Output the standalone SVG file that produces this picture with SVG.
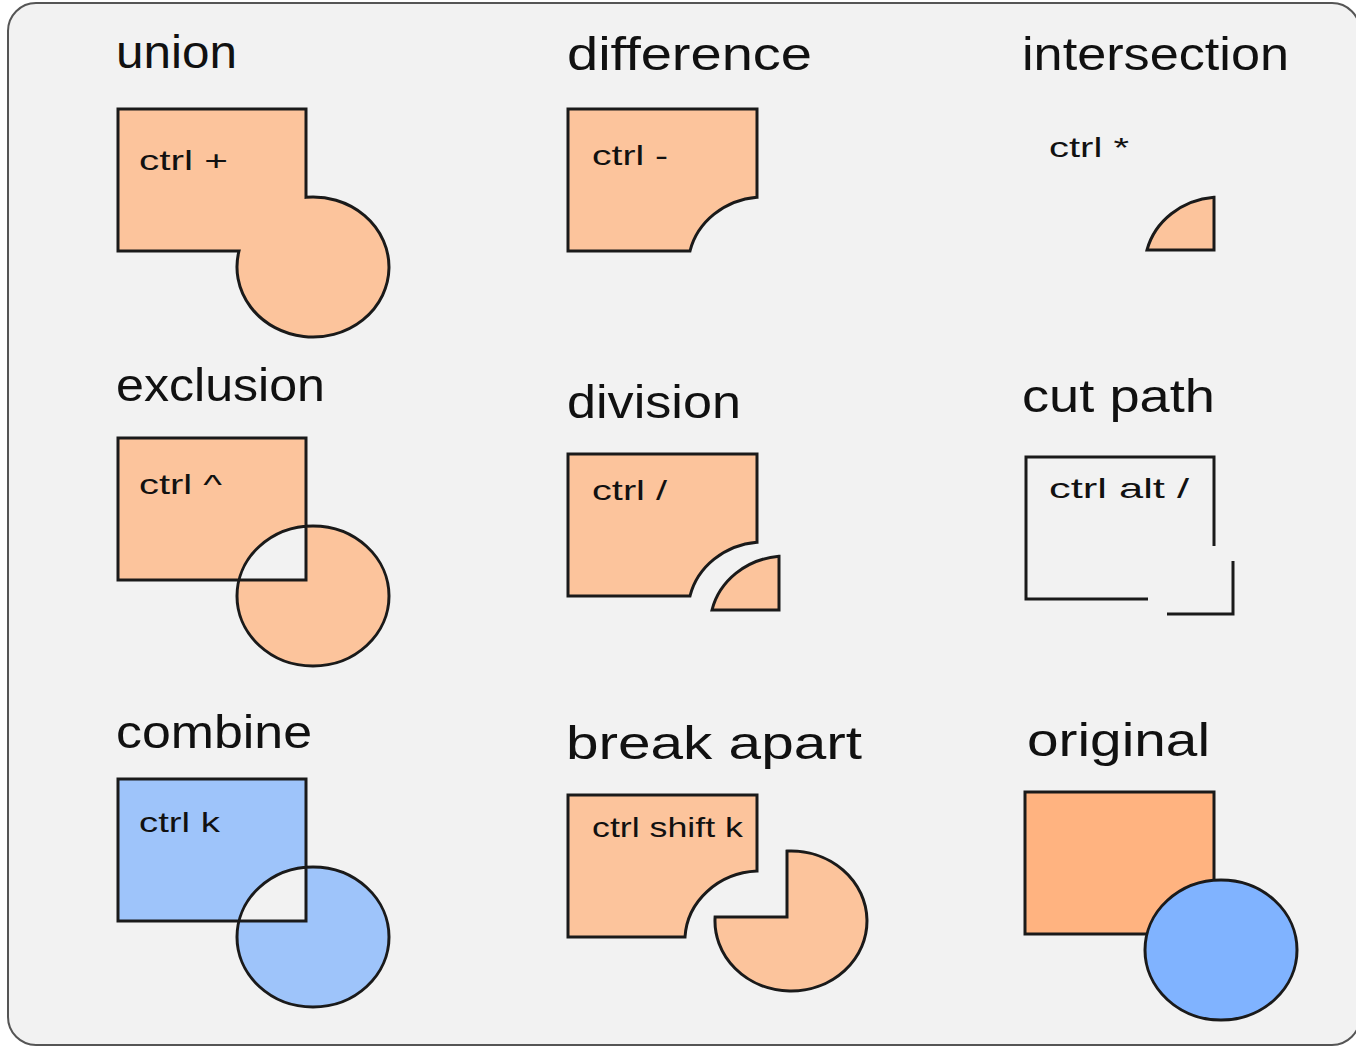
<svg xmlns="http://www.w3.org/2000/svg" width="1356" height="1048" viewBox="0 0 1356 1048">
<style>
.bg{fill:#f2f2f2;stroke:#555;stroke-width:2}
.sh{stroke:#1a1a1a;stroke-width:3;stroke-linejoin:miter}
.or{fill:#fcc49c}
.bl{fill:#9ec4fa}
.h{font-family:"Liberation Sans",Arial,sans-serif;font-size:46px;fill:#111}
.l{font-family:"Liberation Sans",Arial,sans-serif;font-size:28px;fill:#111}
</style>
<rect class="bg" x="8" y="3" width="1352" height="1042" rx="28"/>
<g id="union">
<text class="h" x="116" y="68" textLength="121" lengthAdjust="spacingAndGlyphs">union</text>
<path class="sh or" d="M118,109 H306 V197.3 A76,70 0 1 1 239,251 H118 Z"/>
<text class="l" x="139" y="170" textLength="89" lengthAdjust="spacingAndGlyphs">ctrl +</text>
</g>
<g id="difference">
<text class="h" x="567" y="70" textLength="245" lengthAdjust="spacingAndGlyphs">difference</text>
<path class="sh or" d="M568,109 H757 V197.3 A76,70 0 0 0 690,251 H568 Z"/>
<text class="l" x="592" y="165" textLength="76" lengthAdjust="spacingAndGlyphs">ctrl -</text>
</g>
<g id="intersection">
<text class="h" x="1022" y="70" textLength="267" lengthAdjust="spacingAndGlyphs">intersection</text>
<path class="sh or" d="M1214,197.3 V250 H1147 A76,70 0 0 1 1214,197.3 Z"/>
<text class="l" x="1049" y="157" textLength="80" lengthAdjust="spacingAndGlyphs">ctrl *</text>
</g>
<g id="exclusion">
<text class="h" x="116" y="401" textLength="209" lengthAdjust="spacingAndGlyphs">exclusion</text>
<path class="sh or" fill-rule="evenodd" d="M118,438 H306 V580 H118 Z M237,596 A76,70 0 1 0 389,596 A76,70 0 1 0 237,596 Z"/>
<text class="l" x="139" y="494" textLength="83" lengthAdjust="spacingAndGlyphs">ctrl ^</text>
</g>
<g id="division">
<text class="h" x="567" y="418" textLength="174" lengthAdjust="spacingAndGlyphs">division</text>
<path class="sh or" d="M568,454 H757 V542.3 A76,70 0 0 0 690,596 H568 Z"/>
<path class="sh or" d="M779,556.3 V610 H712 A76,70 0 0 1 779,556.3 Z"/>
<text class="l" x="592" y="500" textLength="75" lengthAdjust="spacingAndGlyphs">ctrl /</text>
</g>
<g id="cut-path">
<text class="h" x="1022" y="412" textLength="193" lengthAdjust="spacingAndGlyphs">cut path</text>
<path class="sh" fill="none" d="M1214,546 V457 H1026 V599 H1148"/>
<path class="sh" fill="none" d="M1233,561 V614 H1167"/>
<text class="l" x="1049" y="498" textLength="140" lengthAdjust="spacingAndGlyphs">ctrl alt /</text>
</g>
<g id="combine">
<text class="h" x="116" y="748" textLength="196" lengthAdjust="spacingAndGlyphs">combine</text>
<path class="sh bl" fill-rule="evenodd" d="M118,779 H306 V921 H118 Z M237,937 A76,70 0 1 0 389,937 A76,70 0 1 0 237,937 Z"/>
<text class="l" x="139" y="832" textLength="81" lengthAdjust="spacingAndGlyphs">ctrl k</text>
</g>
<g id="break-apart">
<text class="h" x="566" y="759" textLength="296" lengthAdjust="spacingAndGlyphs">break apart</text>
<path class="sh or" d="M568,795 H757 V871 A76,70 0 0 0 685,937 H568 Z"/>
<path class="sh or" d="M787,917 V851.1 A76,70 0 1 1 715.1,917 Z"/>
<text class="l" x="592" y="837" textLength="151" lengthAdjust="spacingAndGlyphs">ctrl shift k</text>
</g>
<g id="original">
<text class="h" x="1027" y="756" textLength="183" lengthAdjust="spacingAndGlyphs">original</text>
<rect class="sh" fill="#ffb380" x="1025" y="792" width="189" height="142"/>
<ellipse class="sh" fill="#80b3ff" cx="1221" cy="950" rx="76" ry="70"/>
</g>
<g id="connectors"/>
</svg>
